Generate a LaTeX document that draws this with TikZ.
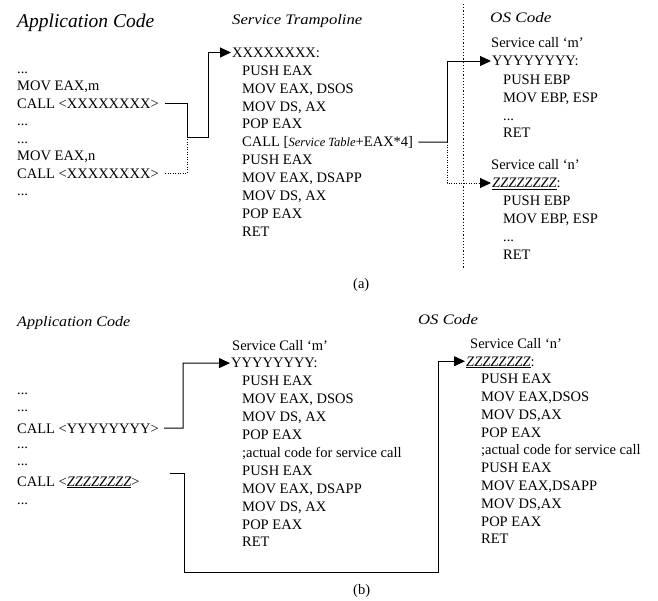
\documentclass[tikz,border=0pt]{standalone}
\usepackage{fontspec}
\usepackage{graphicx}
\setmainfont{Liberation Serif}
\usetikzlibrary{arrows.meta}

% wide italic used for the column headings
\newcommand\widehead[2][1.16]{\scalebox{#1}[1]{\itshape #2}}

\tikzset{
  code/.style={anchor=base west, inner sep=0pt, text height=9.6pt, text depth=0pt,
               font=\fontsize{14.5}{17}\selectfont},
  head/.style={anchor=base west, inner sep=0pt, font=\fontsize{14.5}{17}\selectfont},
  bighead/.style={anchor=base west, inner sep=0pt, font=\fontsize{19.5}{23}\selectfont\itshape},
  tip/.style={-{Triangle[length=11pt,width=10pt]}, shorten >=1pt},
  wire/.style={line width=1pt},
  conn/.style={wire, tip},
  dotwire/.style={line width=1pt, dash pattern=on 1pt off 1.5pt},
  dotconn/.style={dotwire, tip},
  divider/.style={line width=1pt, dash pattern=on 1.2pt off 2pt},
}

\begin{document}
\begin{tikzpicture}[x=1pt,y=-1pt]
\useasboundingbox (0,0) rectangle (658,600);

% ---------------- (a) trampoline through a service table ----------------
\node[bighead] (appA) at (17,27) {Application Code};
\node[head] (trampH) at (232,24.5) {\widehead[1.15]{Service Trampoline}};
\node[head] (osA) at (490,22) {\widehead[1.18]{OS Code}};

% application code
\node[code] (a0) at (17,73)    {...};
\node[code] (a1) at (17,90.5)  {MOV EAX,m};
\node[code] (a2) at (17,108)   {CALL <XXXXXXXX>};
\node[code] (a3) at (17,125.5) {...};
\node[code] (a4) at (17,143)   {...};
\node[code] (a5) at (17,160.5) {MOV EAX,n};
\node[code] (a6) at (17,178)   {CALL <XXXXXXXX>};
\node[code] (a7) at (17,195.5) {...};

% service trampoline
\node[code] (t0) at (232,57.3) {XXXXXXXX:};
\foreach \txt [count=\i] in {{PUSH EAX},{MOV EAX, DSOS},{MOV DS, AX},{POP EAX},
    {CALL [{\fontsize{12.5}{14}\selectfont\itshape Service Table}+EAX*4]},
    {PUSH EAX},{MOV EAX, DSAPP},{MOV DS, AX},{POP EAX},{RET}}
  \node[code] (t\i) at (242,{57.3+17.9*\i}) {\txt};

% OS code
\node[code] (sm)  at (491,47.8)  {Service call `m'};
\node[code] (ym)  at (492,65.8)  {YYYYYYYY:};
\node[code] (ym1) at (503,84.8)  {PUSH EBP};
\node[code] (ym2) at (503,102.8) {MOV EBP, ESP};
\node[code] (ym3) at (503,120)   {...};
\node[code] (ym4) at (503,137.8) {RET};
\node[code] (sn)  at (491,169.8) {Service call `n'};
\node[code] (zn)  at (492,187.8) {\underline{\itshape ZZZZZZZZ}:};
\node[code] (zn1) at (503,205.8) {PUSH EBP};
\node[code] (zn2) at (503,223.8) {MOV EBP, ESP};
\node[code] (zn3) at (503,241)   {...};
\node[code] (zn4) at (503,259.8) {RET};

\node[code] (capA) at (353,288) {(a)};

% separator between trampoline and OS code
\coordinate (divTop) at (463,4);
\coordinate (divBot) at (463,268);
\draw[divider] (divTop) -- (divBot);

% calls into the trampoline
\coordinate (jA) at (187,137);
\coordinate (jB) at (208,137);
\draw[conn] ([xshift=6pt]a2.east) -| (jA) -- (jB) |- (t0.west);
\draw[dotwire] ([xshift=6pt]a6.east) -| (jA);

% dispatch through the service table
\coordinate (jC) at (447,142);
\draw[wire] ([xshift=5pt]t5.east) -- (jC);
\draw[conn] (jC) |- (ym.west);
\draw[dotconn] (jC) |- (zn.west);

% ---------------- (b) direct calls ----------------
\node[head] (appB) at (17,326) {\widehead[1.11]{Application Code}};
\node[head] (osB) at (418,324) {\widehead[1.15]{OS Code}};

\node[code] (b0) at (17,394) {...};
\node[code] (b1) at (17,411) {...};
\node[code] (b2) at (17,433) {CALL <YYYYYYYY>};
\node[code] (b3) at (17,448) {...};
\node[code] (b4) at (17,465) {...};
\node[code] (b5) at (17,486) {CALL <\underline{\itshape ZZZZZZZZ}>};
\node[code] (b6) at (17,504) {...};

% service call m
\node[code] (m0) at (232,350)   {Service Call `m'};
\node[code] (m1) at (231,367.9) {YYYYYYYY:};
\foreach \txt [count=\i from 2] in {{PUSH EAX},{MOV EAX, DSOS},{MOV DS, AX},{POP EAX},
    {;actual code for service call},{PUSH EAX},{MOV EAX, DSAPP},{MOV DS, AX},{POP EAX},{RET}}
  \node[code] (m\i) at (242,{350+17.9*\i}) {\txt};

% service call n
\node[code] (n0) at (470,348)  {Service Call `n'};
\node[code] (n1) at (466,366)  {\underline{\itshape ZZZZZZZZ}:};
\foreach \txt [count=\i from 2] in {{PUSH EAX},{MOV EAX,DSOS},{MOV DS,AX},{POP EAX},
    {;actual code for service call},{PUSH EAX},{MOV EAX,DSAPP},{MOV DS,AX},{POP EAX},{RET}}
  \node[code] (n\i) at (481,{348+17.8*\i}) {\txt};

\node[code] (capB) at (353,594) {(b)};

% direct call to service m
\coordinate (jD) at (183,363);
\draw[conn] ([xshift=5pt]b2.east) -| (jD) -- (m1.west);

% direct call to service n
\coordinate (jE) at (184,572);
\coordinate (jF) at (438,572);
\draw[conn] ([xshift=30pt,yshift=8pt]b5.east) -| (jE) -- (jF) |- (n1.west);

\end{tikzpicture}
\end{document}
